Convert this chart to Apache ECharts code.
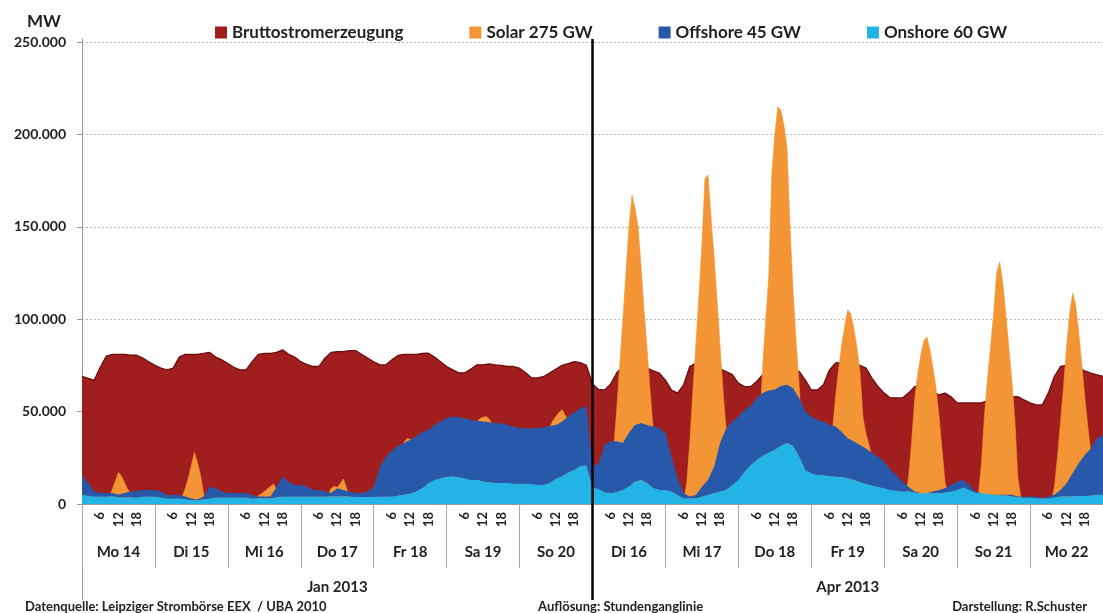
<!DOCTYPE html>
<html><head><meta charset="utf-8">
<script src="https://cdn.jsdelivr.net/npm/echarts@6/dist/echarts.min.js"></script>
<style>html,body{margin:0;padding:0;background:#fff}#c{width:1103px;height:613px}</style>
</head><body><div id="c"></div>
<script>
// ---- categories / labels ----
const janDays = ['Mo 14', 'Di 15', 'Mi 16', 'Do 17', 'Fr 18', 'Sa 19', 'So 20'];
const aprDays = ['Di 16', 'Mi 17', 'Do 18', 'Fr 19', 'Sa 20', 'So 21', 'Mo 22'];
const months = ['Jan 2013', 'Apr 2013'];
const hourTicks = [6, 12, 18];
const seriesNames = ['Bruttostromerzeugung', 'Solar 275 GW', 'Offshore 45 GW', 'Onshore 60 GW'];
const footLeft = 'Datenquelle: Leipziger Strombörse EEX  / UBA 2010';
const footMid = 'Auflösung: Stundenganglinie';
const footRight = 'Darstellung: R.Schuster';

// ---- values (MW), one value every 2 hours, 12 per day, plus the closing value ----
const step = 2;
const brutto = [
  69000, 68000, 67000, 74000, 80000, 81000, 81000, 81000, 80500, 80500, 79000, 77000,
  75000, 73500, 72600, 73500, 79500, 81000, 81000, 81000, 81500, 82000, 79500, 78000,
  76000, 74000, 72600, 72600, 77000, 81000, 81500, 81500, 82000, 83400, 81000, 79500,
  77000, 75500, 74400, 74500, 79000, 82000, 82500, 82500, 83000, 83000, 81000, 79000,
  77000, 75300, 75300, 78000, 80400, 81000, 81000, 81000, 81500, 81600, 79500, 77000,
  74400, 72600, 71000, 71000, 73000, 75300, 75300, 75800, 75300, 75000, 74400, 74400,
  73500, 71000, 68200, 68200, 69000, 71000, 73000, 75000, 76000, 77000, 76500, 75000,
  65000, 62000, 61700, 65000, 71000, 74400, 74500, 74500, 74000, 73600, 72000, 70800,
  67000, 61700, 60000, 64500, 74400, 76300, 76000, 75000, 74000, 73000, 71700, 70000,
  65400, 63500, 63500, 66300, 70000, 72000, 72000, 72000, 72000, 72000, 71700, 67200,
  61700, 61700, 64500, 72600, 76300, 76500, 76500, 76000, 75000, 73500, 68000, 63500,
  60000, 57400, 57400, 57400, 60000, 63500, 64000, 63000, 61000, 59000, 60000, 58000,
  54700, 54700, 54700, 54700, 54700, 56000, 57000, 58000, 58000, 58000, 58100, 56300,
  54700, 53600, 53600, 60000, 69000, 74400, 75000, 75000, 74000, 72000, 70800, 69900,
  69000
];
const onshore = [
  5000, 4500, 4000, 4000, 4000, 4000, 3500, 3500, 3500, 3500, 4000, 4000,
  4000, 3500, 3000, 3000, 3000, 2500, 2000, 2000, 2500, 3000, 3500, 3500,
  3500, 3500, 3500, 3500, 3000, 3000, 3000, 3000, 3500, 4000, 4000, 4000,
  4000, 4000, 4000, 4000, 4000, 4000, 4000, 4000, 4000, 3800, 3800, 3800,
  3800, 4000, 4000, 4000, 4500, 5000, 5500, 6700, 8500, 11400, 13000, 14000,
  14800, 15000, 14500, 14000, 13000, 13000, 12000, 11600, 11400, 11400, 11400, 11000,
  11000, 11000, 10800, 10300, 10300, 11400, 13500, 15000, 17000, 18400, 20600, 21000,
  9000, 8000, 6400, 5800, 6400, 7600, 9400, 12100, 13000, 11200, 8500, 7600,
  7600, 6700, 4900, 3000, 3000, 3000, 3900, 4900, 5800, 6700, 7600, 10300,
  13000, 17500, 21000, 23800, 26000, 27800, 29200, 31400, 33000, 31400, 25600, 18400,
  16600, 15700, 15700, 15000, 14800, 14500, 14000, 13000, 11800, 10800, 9900, 9400,
  8500, 7600, 7200, 6700, 6700, 6100, 5800, 5800, 5800, 5800, 6100, 6700,
  7600, 9000, 7600, 6100, 5800, 5400, 5000, 4600, 4600, 4000, 3600, 3400,
  3400, 3100, 3100, 3100, 3400, 4000, 4000, 4000, 4300, 4300, 4500, 5000,
  5000
];
const offshore = [
  10700, 6900, 2700, 2000, 2000, 2000, 1500, 2500, 3200, 3500, 3600, 3600,
  3600, 3200, 1900, 1900, 1900, 1500, 1000, 500, 1500, 6400, 5000, 3200,
  2500, 2500, 2500, 2500, 1900, 1000, 1000, 1000, 5500, 10800, 8000, 6300,
  6300, 5400, 3600, 3600, 2700, 2000, 4500, 3600, 2700, 2200, 2200, 2900,
  5600, 16000, 21500, 25000, 26900, 28000, 29200, 29800, 30500, 28600, 29800, 30600,
  31600, 32300, 32500, 32400, 32500, 32000, 32600, 32700, 32300, 32300, 31400, 30900,
  30000, 30000, 30200, 30700, 31200, 30800, 29300, 29600, 30300, 31100, 31200, 32000,
  11000, 14000, 25600, 28100, 27500, 25400, 29100, 30700, 30800, 31600, 33400, 33400,
  30900, 18900, 9000, 2800, 1000, 1900, 5500, 8100, 14400, 26300, 33400, 34300,
  34300, 33400, 32000, 33400, 34000, 33600, 32800, 32500, 31500, 31200, 31600, 31600,
  30700, 29800, 28900, 27800, 27100, 24500, 21600, 20800, 20100, 19300, 17500, 16200,
  14400, 11100, 8400, 5300, 2700, 600, 0, 0, 900, 1800, 2400, 3600,
  4400, 4000, 2700, 600, 0, 0, 0, 400, 400, 1000, 400, 600,
  600, 900, 0, 900, 1600, 3600, 7200, 12600, 17700, 22200, 25600, 30600,
  32000
];
// ---- solar (MW), hourly from 05:00 to 22:00 for each day ----
const solarStartHour = 5;
const solar = [
  [0, 0, 500, 2000, 4500, 8000, 12500, 17000, 15000, 11500, 8000, 5500, 2500, 800, 0, 0, 0, 0],
  [0, 0, 300, 1500, 4000, 8500, 14000, 21000, 28000, 22500, 15500, 6000, 800, 0, 0, 0, 0, 0],
  [0, 0, 0, 500, 3000, 4500, 5400, 6800, 8100, 9500, 10800, 8000, 3000, 500, 0, 0, 0, 0],
  [0, 0, 200, 1500, 5000, 8500, 9500, 9000, 11000, 13500, 9000, 4000, 1000, 0, 0, 0, 0, 0],
  [0, 0, 1000, 5000, 15000, 33500, 35500, 35000, 33000, 28000, 20000, 12000, 5000, 1000, 0, 0, 0, 0],
  [0, 0, 2000, 10000, 25000, 44500, 46200, 47000, 47300, 46000, 43000, 36000, 22000, 8000, 1000, 0, 0, 0],
  [0, 0, 3000, 12000, 30000, 42000, 45000, 47500, 49500, 51000, 48000, 46000, 35000, 15000, 3000, 0, 0, 0],
  [5000, 15000, 30000, 52000, 76000, 100000, 125000, 150000, 167000, 160000, 150000, 128000, 104000, 83000, 60000, 40000, 20000, 5000],
  [0, 2000, 11000, 33000, 60000, 86000, 112000, 140000, 176000, 178000, 155000, 134000, 110000, 85000, 60000, 40000, 20000, 5000],
  [0, 10000, 40000, 74000, 100000, 123000, 178000, 200000, 215000, 213000, 205000, 193000, 150000, 115000, 88000, 65000, 30000, 8000],
  [0, 10000, 40000, 58000, 73000, 86000, 96000, 105000, 103000, 95000, 85000, 72000, 47000, 38000, 32000, 25000, 10000, 2000],
  [0, 0, 4000, 14000, 33000, 56000, 70000, 80000, 88000, 90500, 84000, 74000, 63500, 48000, 30000, 12000, 4000, 0],
  [0, 0, 5000, 22000, 48000, 68000, 85000, 103000, 125000, 131000, 120000, 103000, 85000, 67000, 45000, 14000, 3000, 0],
  [0, 0, 1000, 9000, 25000, 44000, 63000, 85000, 103000, 114000, 108000, 93000, 76000, 58000, 42000, 28000, 12000, 2000]
];

// ---- build ----
const days = janDays.concat(aprDays);
const totalHours = days.length * 24;
const splitHour = janDays.length * 24;
const hourCats = [];
for (let i = 0; i <= totalHours; i++) hourCats.push(hourTicks.indexOf(i % 24) >= 0 ? String(i % 24) : '');
const toPts = arr => arr.map((v, i) => [i * step, v]);
const solarPts = [];
solar.forEach((day, d) => day.forEach((v, i) => solarPts.push([d * 24 + solarStartHour + i, v])));
const deFmt = v => String(v).replace(/\B(?=(\d{3})+(?!\d))/g, '.');

const FONT = 'Lato, "DejaVu Sans", sans-serif';
const TXT = '#222';
const C = { brutto: '#a11e1f', bruttoLine: '#6a0d0d', solar: '#f39534', off: '#2858a9', on: '#22b4e6' };
const bold = (size) => ({ fontFamily: FONT, fontWeight: 'bold', fontSize: size, color: TXT });
const noLine = (c) => ({ color: c, width: 0, opacity: 0 });

const chart = echarts.init(document.getElementById('c'), null, { renderer: 'canvas' });
chart.setOption({
  animation: false,
  backgroundColor: '#fff',
  textStyle: { fontFamily: FONT },
  title: [
    { text: 'MW', left: 22, top: 8, textStyle: bold(17) },
    { text: footLeft, left: 20, top: 595, textStyle: bold(13) },
    { text: footMid, left: 533, top: 595, textStyle: bold(13) },
    { text: footRight, right: 11, top: 595, textStyle: bold(13) }
  ],
  legend: {
    data: seriesNames, left: 210, top: 19, icon: 'rect', itemWidth: 12, itemHeight: 12,
    itemGap: 66, selectedMode: false, itemStyle: { borderWidth: 0 }, textStyle: bold(17)
  },
  grid: [
    { left: 82, right: -3, top: 42, bottom: 109 },
    { left: 82, right: -3, top: 39, bottom: 13 }
  ],
  xAxis: [
    { type: 'category', gridIndex: 0, data: hourCats, boundaryGap: false,
      axisLine: { show: true, lineStyle: { color: '#9a9a9a' } }, axisTick: { show: false },
      splitLine: { show: false },
      axisLabel: Object.assign(bold(13), { rotate: 90, margin: 8, interval: 0 }) },
    { type: 'category', gridIndex: 0, position: 'bottom', data: days, boundaryGap: true,
      axisLine: { show: false },
      axisTick: { show: true, length: 64, interval: 0, lineStyle: { color: '#aaaaaa' } },
      axisLabel: Object.assign(bold(15), { interval: 0, margin: 41 }) },
    { type: 'category', gridIndex: 0, position: 'bottom', data: months, boundaryGap: true,
      axisLine: { show: false }, axisTick: { show: false },
      axisLabel: Object.assign(bold(15), { interval: 0, margin: 76 }) },
    { type: 'value', gridIndex: 1, min: 0, max: totalHours, show: false }
  ],
  yAxis: [
    { type: 'value', gridIndex: 0, min: 0, max: 250000, interval: 50000,
      axisLine: { show: true, lineStyle: { color: '#9a9a9a' } },
      axisTick: { show: true, length: 5, lineStyle: { color: '#9a9a9a' } },
      splitLine: { show: true, lineStyle: { color: '#b8b8b8', type: [2, 2] } },
      axisLabel: Object.assign(bold(14), { margin: 16, formatter: deFmt }) },
    { type: 'value', gridIndex: 1, min: 0, max: 1,
      axisLine: { show: true, lineStyle: { color: '#9a9a9a' } }, axisTick: { show: false },
      axisLabel: { show: false }, splitLine: { show: false } }
  ],
  series: [
    { name: seriesNames[0], type: 'line', z: 2, xAxisIndex: 0, yAxisIndex: 0, data: toPts(brutto),
      symbol: 'none', silent: true, lineStyle: { color: C.bruttoLine, width: 1.3 },
      itemStyle: { color: C.brutto }, areaStyle: { color: C.brutto, opacity: 1 } },
    { name: seriesNames[1], type: 'line', z: 3, xAxisIndex: 0, yAxisIndex: 0, data: solarPts,
      symbol: 'none', silent: true, lineStyle: { color: C.solar, width: 0.6 },
      itemStyle: { color: C.solar }, areaStyle: { color: C.solar, opacity: 1 } },
    { name: seriesNames[3], type: 'line', z: 5, stack: 'wind', xAxisIndex: 0, yAxisIndex: 0, data: toPts(onshore),
      symbol: 'none', silent: true, lineStyle: noLine(C.on),
      itemStyle: { color: C.on }, areaStyle: { color: C.on, opacity: 1 } },
    { name: seriesNames[2], type: 'line', z: 4, stack: 'wind', xAxisIndex: 0, yAxisIndex: 0, data: toPts(offshore),
      symbol: 'none', silent: true, lineStyle: noLine(C.off),
      itemStyle: { color: C.off }, areaStyle: { color: C.off, opacity: 1 } },
    { type: 'line', z: 10, xAxisIndex: 3, yAxisIndex: 1, data: [[splitHour, 0], [splitHour, 1]],
      symbol: 'none', silent: true, lineStyle: { color: '#000', width: 2.5 } }
  ]
});
</script></body></html>
